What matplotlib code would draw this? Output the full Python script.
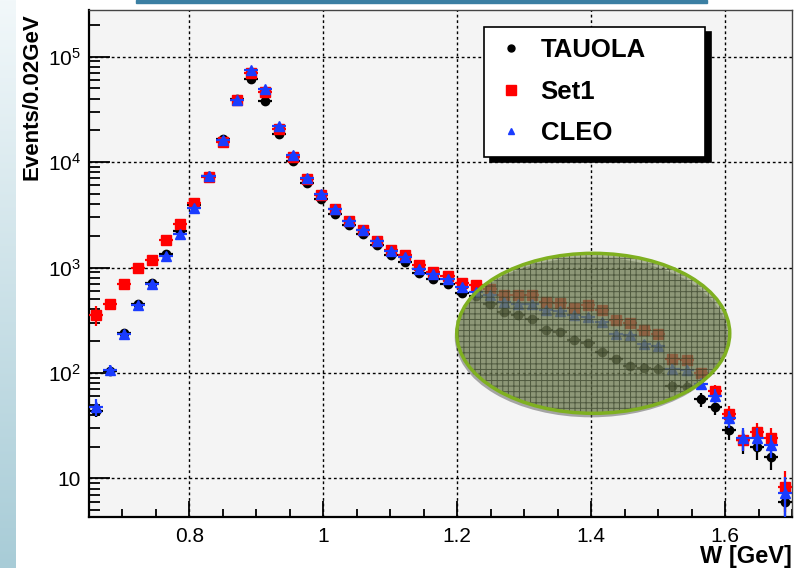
import numpy as np
import matplotlib
matplotlib.use("Agg")
import matplotlib.pyplot as plt
from matplotlib.patches import Ellipse, Rectangle
from matplotlib.lines import Line2D
from matplotlib.ticker import MultipleLocator, LogLocator, NullFormatter

plt.rcParams['font.family'] = ['Liberation Sans', 'DejaVu Sans']
plt.rcParams['mathtext.fontset'] = 'custom'
plt.rcParams['mathtext.rm'] = 'Liberation Sans'
plt.rcParams['hatch.linewidth'] = 0.7

# 50 bins of W between 0.65 and 1.70 GeV
w_lo, w_hi, n_bins = 0.65, 1.70, 50

tauola = [44, 105, 238, 448, 715, 1330, 2220, 3890, 7400, 16700,
          40000, 60800, 37700, 18400, 10300, 6300, 4450, 3250, 2520, 2070,
          1620, 1306, 1130, 887, 785, 703, 573, 533, 455, 379,
          352, 328, 258, 245, 204, 192, 158, 137, 116, 112,
          110, 75, 74, 56, 48, 29, 23, 20, 16, 6.0]
set1 = [352, 448, 703, 980, 1170, 1810, 2600, 4050, 7250, 15500,
        38500, 70000, 46100, 20800, 11200, 6850, 4850, 3600, 2760, 2290,
        1800, 1470, 1320, 1050, 906, 826, 713, 677, 631, 545,
        545, 545, 471, 465, 417, 438, 393, 321, 298, 254,
        236, 137, 134, 99, 68, 41, 23, 27.6, 24.4, 8.3]
cleo = [48, 106, 236, 440, 703, 1285, 2090, 3700, 7300, 16100,
        39000, 75000, 49000, 22000, 11600, 7000, 4950, 3560, 2740, 2255,
        1780, 1430, 1260, 975, 863, 785, 653, 590, 545, 471,
        455, 455, 399, 387, 352, 340, 304, 236, 228, 190,
        179, 110, 106, 79, 61, 37, 24, 24, 20.7, 7.2]

tauola_err = [6, 10, 15, 21, 27, 37, 47, 62, 86, 130,
              200, 250, 195, 135, 100, 80, 67, 57, 50, 45,
              40, 36, 34, 30, 28, 27, 24, 23, 21, 19,
              19, 18, 16, 16, 14, 14, 13, 12, 11, 11,
              11, 9, 9, 8, 8, 6, 6, 5, 4, 3]
set1_err = [75, 40, 45, 50, 55, 65, 75, 90, 100, 150,
            240, 300, 250, 160, 110, 85, 70, 60, 52, 48,
            42, 38, 36, 32, 30, 29, 27, 26, 25, 23,
            23, 23, 22, 21, 20, 21, 20, 18, 17, 16,
            15, 12, 12, 10, 8, 8, 5, 6, 5.5, 3.5]
cleo_err = [9, 12, 18, 25, 32, 42, 55, 72, 100, 150,
            230, 320, 260, 175, 125, 100, 83, 70, 62, 56,
            50, 45, 42, 37, 35, 33, 30, 29, 27, 26,
            25, 25, 23, 23, 22, 21, 20, 18, 17, 16,
            15, 12, 12, 10, 9, 7, 6, 6, 5, 3.2]

edges = np.linspace(w_lo, w_hi, n_bins + 1)
centers = 0.5 * (edges[:-1] + edges[1:])
half_w = 0.5 * (edges[1] - edges[0])

fig = plt.figure(figsize=(7.94, 5.68), dpi=100)
fig.patch.set_facecolor('white')

# slide decoration: gradient strip on the left, blue bar on top
strip = fig.add_axes([0, 0, 16 / 794, 1])
grad = np.linspace(0, 1, 256).reshape(-1, 1)
strip.imshow(grad, aspect='auto', cmap=matplotlib.colors.LinearSegmentedColormap.from_list(
    'slide', ['#f2f8fa', '#a8ccd7']), extent=[0, 1, 0, 1], origin='upper')
strip.axis('off')
fig.patches.append(Rectangle((136 / 794, 1 - 3 / 568), (707 - 136) / 794, 3 / 568,
                             transform=fig.transFigure, color='#3b7fa3', zorder=5))

ax = fig.add_axes([89 / 794, 51 / 568, 703 / 794, 507 / 568])
ax.set_facecolor('#f4f4f4')

series = [
    (tauola, tauola_err, 'black', 'o', 6.0, 'TAUOLA'),
    (set1, set1_err, '#ff0000', 's', 7.0, 'Set1'),
    (cleo, cleo_err, '#1a3cff', '^', 7.0, 'CLEO'),
]
for i, (vals, err, col, mk, ms, lab) in enumerate(series):
    ax.errorbar(centers, vals, xerr=half_w, yerr=err, fmt=mk, color=col,
                ms=ms, mec=col, elinewidth=1.6, capsize=0, zorder=3 + i)

ax.set_yscale('log')
ax.set_xlim(w_lo, w_hi)
ax.set_ylim(4.3, 2.77e5)

ax.xaxis.set_major_locator(MultipleLocator(0.2))
ax.xaxis.set_minor_locator(MultipleLocator(0.05))
ax.set_xticks([0.8, 1.0, 1.2, 1.4, 1.6])
ax.set_xticklabels(['0.8', '1', '1.2', '1.4', '1.6'])
ax.set_yticks([10, 1e2, 1e3, 1e4, 1e5])
ax.set_yticklabels(['10', r'$\mathregular{10^{2}}$', r'$\mathregular{10^{3}}$',
                    r'$\mathregular{10^{4}}$', r'$\mathregular{10^{5}}$'])
ax.yaxis.set_minor_locator(LogLocator(base=10, subs=np.arange(2, 10)))
ax.yaxis.set_minor_formatter(NullFormatter())

ax.tick_params(axis='both', which='both', direction='in', labelsize=15, width=1.3)
ax.tick_params(axis='x', which='major', length=11.5, pad=7)
ax.tick_params(axis='x', which='minor', length=6)
ax.tick_params(axis='y', which='major', length=15, pad=6)
ax.tick_params(axis='y', which='minor', length=8)

ax.grid(True, which='major', color='black', linestyle=(0, (2, 2)), linewidth=1.0)
ax.set_axisbelow(True)
for side in ['left', 'bottom']:
    ax.spines[side].set_linewidth(1.6)
for side in ['top', 'right']:
    ax.spines[side].set_linewidth(1.0)
    ax.spines[side].set_color('#444444')

fig.text(32.5 / 794, 1 - 13 / 568, 'Events/0.02GeV', rotation=90, ha='center', va='top',
         fontsize=16, fontweight='bold')
fig.text(792 / 794, 1 - 556 / 568, 'W [GeV]', ha='right', va='center', fontsize=17,
         fontweight='bold')

# highlighted region
cx, cy, ew, eh = 0.7173, 0.3623, 0.3883, 0.3156
ax.add_patch(Ellipse((cx - 2 / 703, cy - 4 / 507), ew, eh, transform=ax.transAxes,
                     facecolor='#555555', edgecolor='none', alpha=0.5, zorder=7))
ax.add_patch(Ellipse((cx, cy), ew, eh, transform=ax.transAxes,
                     facecolor='#7e8e58', edgecolor='none', alpha=0.58, zorder=8))
ax.add_patch(Ellipse((cx, cy), ew, eh, transform=ax.transAxes, facecolor='none',
                     edgecolor='#26301a', hatch='+++', linewidth=0, alpha=0.6, zorder=9))
ax.add_patch(Ellipse((cx, cy), ew, eh, transform=ax.transAxes, facecolor='none',
                     edgecolor='#7fb020', linewidth=2.5, zorder=10))

handles = [Line2D([], [], ls='none', marker=mk, color=col, ms=s)
           for (_, _, col, mk, _, _), s in zip(series, [5, 6.5, 5])]
leg = ax.legend(handles, [s[5] for s in series], loc='upper left', mode='expand',
                bbox_to_anchor=(0.5619, 0.7174, 0.3143, 0.2496), frameon=True,
                fancybox=False, edgecolor='black', framealpha=1,
                shadow={'color': 'black', 'alpha': 1, 'ox': 4, 'oy': -4},
                prop={'size': 18.5, 'weight': 'bold'}, handlelength=1.2,
                handletextpad=0.55, labelspacing=0.68, borderpad=0.45, borderaxespad=0)
leg.get_frame().set_linewidth(1.2)
leg.set_zorder(20)

plt.savefig('out.png', dpi=100)
